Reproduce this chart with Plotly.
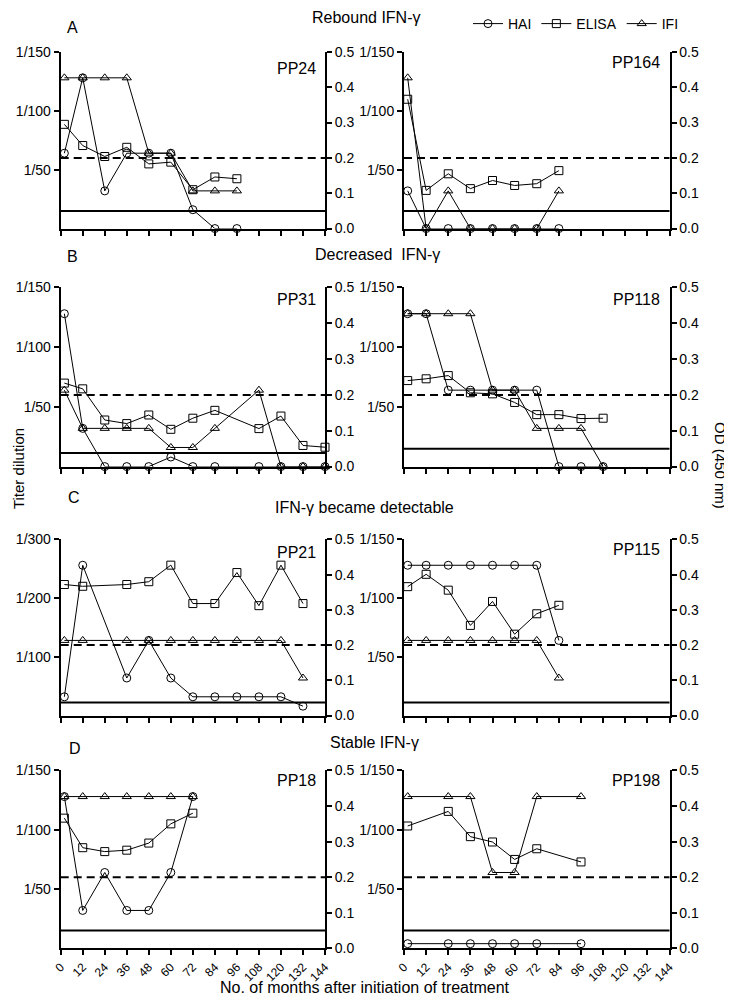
import plotly.graph_objects as go

# ---------------- data ----------------
panel_names = ["PP24", "PP164", "PP31", "PP118", "PP21", "PP115", "PP18", "PP198"]
row_titles = ["Rebound IFN-\u03b3", "Decreased  IFN-\u03b3", "IFN-\u03b3 became detectable", "Stable IFN-\u03b3"]
row_letters = ["A", "B", "C", "D"]
month_ticks = [0, 12, 24, 36, 48, 60, 72, 84, 96, 108, 120, 132, 144]

pp24_months = [2, 12, 24, 36, 48, 60, 72, 84, 96]
pp24_hai = [64, 128, 32, 64, 64, 64, 16, 0, 0]
pp24_elisa = [0.295, 0.235, 0.204, 0.230, 0.183, 0.188, 0.110, 0.146, 0.141]
pp24_ifi = [128, 128, 128, 128, 64, 64, 32, 32, 32]

pp164_months = [2, 12, 24, 36, 48, 60, 72, 84]
pp164_hai = [32, 0, 0, 0, 0, 0, 0, 0]
pp164_elisa = [0.366, 0.108, 0.155, 0.113, 0.136, 0.122, 0.127, 0.164]
pp164_ifi = [128, 0, 32, 0, 0, 0, 0, 32]

pp31_months = [2, 12, 24, 36, 48, 60, 72, 84, 108, 120, 132, 144]
pp31_hai = [128, 32, 0, 0, 0, 8, 0, 0, 0, 0, 0, 0]
pp31_elisa = [0.233, 0.217, 0.130, 0.120, 0.144, 0.104, 0.135, 0.157, 0.106, 0.141, 0.059, 0.054]
pp31_ifi = [64, 32, 32, 32, 32, 16, 16, 32, 64, 0, 0, 0]

pp118_months = [2, 12, 24, 36, 48, 60, 72, 84, 96, 108]
pp118_hai = [128, 128, 64, 64, 64, 64, 64, 0, 0, 0]
pp118_elisa = [0.240, 0.245, 0.254, 0.206, 0.203, 0.179, 0.145, 0.145, 0.134, 0.135]
pp118_ifi = [128, 128, 128, 128, 64, 64, 32, 32, 32, 0]

pp21_months = [2, 12, 36, 48, 60, 72, 84, 96, 108, 120, 132]
pp21_hai = [32, 256, 64, 128, 64, 32, 32, 32, 32, 32, 16]
pp21_elisa = [0.372, 0.367, 0.372, 0.380, 0.427, 0.318, 0.318, 0.406, 0.312, 0.427, 0.318]
pp21_ifi = [128, 128, 128, 128, 128, 128, 128, 128, 128, 128, 64]

pp115_months = [2, 12, 24, 36, 48, 60, 72, 84]
pp115_hai = [128, 128, 128, 128, 128, 128, 128, 64]
pp115_elisa = [0.366, 0.401, 0.356, 0.256, 0.324, 0.231, 0.289, 0.313]
pp115_ifi = [64, 64, 64, 64, 64, 64, 64, 32]

pp18_months = [2, 12, 24, 36, 48, 60, 72]
pp18_hai = [128, 32, 64, 32, 32, 64, 128]
pp18_elisa = [0.366, 0.283, 0.272, 0.276, 0.296, 0.350, 0.380]
pp18_ifi = [128, 128, 128, 128, 128, 128, 128]

pp198_months = [2, 24, 36, 48, 60, 72, 96]
pp198_hai = [4, 4, 4, 4, 4, 4, 4]
pp198_elisa = [0.344, 0.385, 0.314, 0.299, 0.250, 0.280, 0.243]
pp198_ifi = [128, 128, 128, 64, 64, 128, 128]

titer_max = [150, 150, 150, 150, 300, 150, 150, 150]
od_cutoff_dashed = [0.2, 0.2, 0.2, 0.2, 0.2, 0.2, 0.2, 0.2]
od_cutoff_solid = [0.05, 0.05, 0.038, 0.05, 0.037, 0.037, 0.05, 0.05]

panel_data = [
    (pp24_months, pp24_hai, pp24_elisa, pp24_ifi),
    (pp164_months, pp164_hai, pp164_elisa, pp164_ifi),
    (pp31_months, pp31_hai, pp31_elisa, pp31_ifi),
    (pp118_months, pp118_hai, pp118_elisa, pp118_ifi),
    (pp21_months, pp21_hai, pp21_elisa, pp21_ifi),
    (pp115_months, pp115_hai, pp115_elisa, pp115_ifi),
    (pp18_months, pp18_hai, pp18_elisa, pp18_ifi),
    (pp198_months, pp198_hai, pp198_elisa, pp198_ifi),
]

# ---------------- layout geometry ----------------
# the page body has an 8px margin, so the figure is 8px smaller and coordinates are offset
OFF = 8
W, H = 732 - OFF, 1001 - OFF
FONT = "Arial, 'Liberation Sans', Helvetica, sans-serif"
col_px = [(60.7, 325.0), (404.0, 669.5)]
row_px = [(50.0, 227.0), (286.0, 465.5), (538.5, 715.0), (770.0, 948.3)]
name_y = [0.905, 0.94, 0.93, 0.93, 0.925, 0.945, 0.945, 0.945]

def px_x(v):
    return (v - OFF) / W

def px_y(v):
    return 1 - (v - OFF) / H

fig = go.Figure()
layout = {}
shapes = []
annotations = []

for i in range(8):
    r, c = divmod(i, 2)
    n = i + 1
    xs = "" if n == 1 else str(n)
    ys_left = xs
    ys_right = str(n + 8)
    months, hai, elisa, ifi = panel_data[i]
    show = (i == 0)
    common = dict(mode="lines+markers", cliponaxis=False,
                  line=dict(color="black", width=1))
    fig.add_trace(go.Scatter(x=months, y=hai, name="HAI", showlegend=show,
                             xaxis="x" + xs, yaxis="y" + ys_left,
                             marker=dict(symbol="circle-open", size=8, color="black",
                                         line=dict(width=1, color="black")), **common))
    fig.add_trace(go.Scatter(x=months, y=elisa, name="ELISA", showlegend=show,
                             xaxis="x" + xs, yaxis="y" + ys_right,
                             marker=dict(symbol="square-open", size=8, color="black",
                                         line=dict(width=1, color="black")), **common))
    fig.add_trace(go.Scatter(x=months, y=ifi, name="IFI", showlegend=show,
                             xaxis="x" + xs, yaxis="y" + ys_left,
                             marker=dict(symbol="triangle-up-open", size=8, color="black",
                                         line=dict(width=1, color="black")), **common))

    x0, x1 = col_px[c]
    y0, y1 = row_px[r]
    bottom = (r == 3)
    layout["xaxis" + xs] = dict(
        domain=[px_x(x0), px_x(x1)], anchor="y" + ys_left, range=[0, 144],
        tickmode="array", tickvals=month_ticks,
        ticktext=[str(m) for m in month_ticks] if bottom else [""] * len(month_ticks),
        showticklabels=bottom, tickangle=-45,
        ticks="outside", ticklen=5, tickwidth=1.5, tickcolor="black",
        showline=True, linecolor="black", linewidth=2, showgrid=False, zeroline=False,
        tickfont=dict(family=FONT, size=12, color="black"), automargin=False,
    )
    tm = titer_max[i]
    tv = [tm / 3, 2 * tm / 3, tm]
    layout["yaxis" + ys_left] = dict(
        domain=[px_y(y1), px_y(y0)], anchor="x" + xs, range=[0, tm],
        tickmode="array", tickvals=tv, ticktext=["1/%d" % v for v in tv],
        ticks="outside", ticklen=5, tickwidth=1.5, tickcolor="black",
        showline=True, linecolor="black", linewidth=2, showgrid=False, zeroline=False,
        tickfont=dict(family=FONT, size=14, color="black"), automargin=False,
    )
    layout["yaxis" + ys_right] = dict(
        overlaying="y" + ys_left, side="right", anchor="x" + xs, range=[0, 0.5],
        tickmode="array", tickvals=[0, 0.1, 0.2, 0.3, 0.4, 0.5],
        ticktext=["0.0", "0.1", "0.2", "0.3", "0.4", "0.5"],
        ticks="outside", ticklen=5, tickwidth=1.5, tickcolor="black",
        showline=True, linecolor="black", linewidth=2, showgrid=False, zeroline=False,
        tickfont=dict(family=FONT, size=14, color="black"), automargin=False,
    )
    # cut-off lines on the OD axis
    shapes.append(dict(type="line", xref="x" + xs + " domain", x0=0, x1=1,
                       yref="y" + ys_right, y0=od_cutoff_dashed[i], y1=od_cutoff_dashed[i],
                       line=dict(color="black", width=2, dash="8px,5px")))
    shapes.append(dict(type="line", xref="x" + xs + " domain", x0=0, x1=1,
                       yref="y" + ys_right, y0=od_cutoff_solid[i], y1=od_cutoff_solid[i],
                       line=dict(color="black", width=2)))
    annotations.append(dict(text=panel_names[i], xref="x" + xs + " domain",
                            yref="y" + ys_left + " domain", x=0.972, y=name_y[i],
                            xanchor="right", yanchor="middle", showarrow=False,
                            font=dict(family=FONT, size=16, color="black")))

# row titles and letters
title_pos = [(366, 16), (377, 253), (364, 507), (375, 742)]
letter_pos = [(72, 26), (72, 255), (74, 496), (75, 748)]
for k in range(4):
    tx, ty = title_pos[k]
    annotations.append(dict(text=row_titles[k], xref="paper", yref="paper",
                            x=px_x(tx), y=px_y(ty), xanchor="center", yanchor="middle",
                            showarrow=False, font=dict(family=FONT, size=16, color="black")))
    lx, ly = letter_pos[k]
    annotations.append(dict(text=row_letters[k], xref="paper", yref="paper",
                            x=px_x(lx), y=px_y(ly), xanchor="center", yanchor="middle",
                            showarrow=False, font=dict(family=FONT, size=16, color="black")))

annotations.append(dict(text="Titer dilution", xref="paper", yref="paper",
                        x=px_x(18), y=px_y(468), xanchor="center", yanchor="middle",
                        textangle=-90, showarrow=False,
                        font=dict(family=FONT, size=15, color="black")))
annotations.append(dict(text="OD (450 nm)", xref="paper", yref="paper",
                        x=px_x(721), y=px_y(464), xanchor="center", yanchor="middle",
                        textangle=90, showarrow=False,
                        font=dict(family=FONT, size=15, color="black")))
annotations.append(dict(text="No. of months after initiation of treatment", xref="paper",
                        yref="paper", x=px_x(365), y=px_y(987), xanchor="center",
                        yanchor="middle", showarrow=False,
                        font=dict(family=FONT, size=16, color="black")))

fig.update_layout(
    width=W, height=H, template="none",
    margin=dict(l=0, r=0, t=0, b=0),
    paper_bgcolor="white", plot_bgcolor="rgba(0,0,0,0)",
    showlegend=True,
    legend=dict(orientation="h", x=px_x(468), y=px_y(22), xanchor="left", yanchor="middle",
                font=dict(family=FONT, size=14, color="black"), bgcolor="rgba(0,0,0,0)",
                itemwidth=30, tracegroupgap=0),
    shapes=shapes, annotations=annotations,
    **layout,
)

fig.write_html("out.html")
